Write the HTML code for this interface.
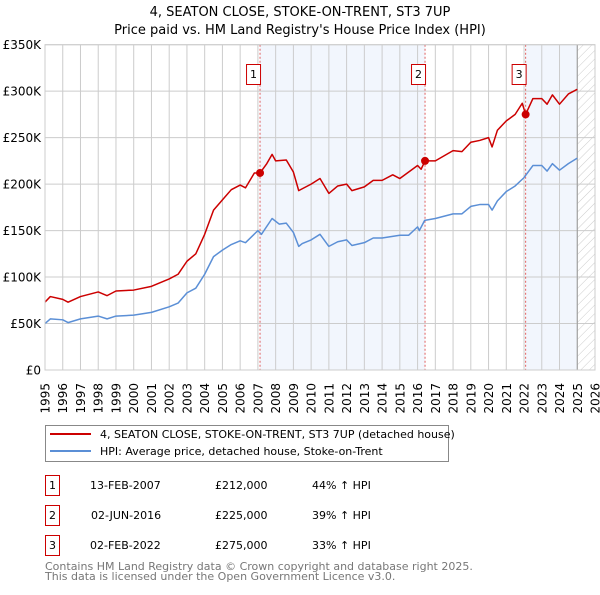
<!DOCTYPE html>
<html><head><meta charset="utf-8"><style>
body{margin:0;background:#fff;font-family:"Liberation Sans","DejaVu Sans",sans-serif}
svg text{font-family:"DejaVu Sans","Liberation Sans",sans-serif}
</style></head><body>
<svg id="c" width="600" height="590" xmlns="http://www.w3.org/2000/svg">
<defs><pattern id="hatch" width="6" height="6" patternUnits="userSpaceOnUse" patternTransform="rotate(45)"><line x1="0" y1="0" x2="0" y2="6" stroke="#ccc" stroke-width="1"/></pattern></defs>
<text x="300" y="16" font-size="13" text-anchor="middle">4, SEATON CLOSE, STOKE-ON-TRENT, ST3 7UP</text>
<text x="300" y="34" font-size="13" text-anchor="middle">Price paid vs. HM Land Registry's House Price Index (HPI)</text>
<g id="plot"></g>
<g>
<rect x="45.5" y="425.5" width="403" height="36" fill="#fff" stroke="#888"/>
<line x1="50" y1="434" x2="91" y2="434" stroke="#cc0000" stroke-width="2"/>
<text x="100" y="438" font-size="11">4, SEATON CLOSE, STOKE-ON-TRENT, ST3 7UP (detached house)</text>
<line x1="50" y1="451" x2="91" y2="451" stroke="#5b8fd6" stroke-width="2"/>
<text x="100" y="455" font-size="11">HPI: Average price, detached house, Stoke-on-Trent</text>
</g>
<g font-size="11">
<rect x="45.5" y="475.5" width="14" height="20" fill="#fff" stroke="#cc0000"/><text x="52.5" y="489" text-anchor="middle">1</text>
<text x="90" y="489">13-FEB-2007</text><text x="215" y="489">£212,000</text><text x="312" y="489">44% ↑ HPI</text>
<rect x="45.5" y="505.5" width="14" height="20" fill="#fff" stroke="#cc0000"/><text x="52.5" y="519" text-anchor="middle">2</text>
<text x="91" y="519">02-JUN-2016</text><text x="215" y="519">£225,000</text><text x="312" y="519">39% ↑ HPI</text>
<rect x="45.5" y="535.5" width="14" height="20" fill="#fff" stroke="#cc0000"/><text x="52.5" y="549" text-anchor="middle">3</text>
<text x="90" y="549">02-FEB-2022</text><text x="215" y="549">£275,000</text><text x="312" y="549">33% ↑ HPI</text>
</g>
<text x="45" y="570" font-size="11" fill="#777">Contains HM Land Registry data © Crown copyright and database right 2025.</text>
<text x="45" y="580" font-size="11" fill="#777">This data is licensed under the Open Government Licence v3.0.</text>
</svg>
<script>
const hpiYears=[1995,1995.3,1996,1996.3,1997,1998,1998.5,1999,2000,2001,2002,2002.5,2003,2003.5,2004,2004.5,2005,2005.5,2006,2006.3,2007,2007.2,2007.8,2008.2,2008.6,2009,2009.3,2009.5,2010,2010.5,2011,2011.5,2012,2012.3,2013,2013.5,2014,2015,2015.5,2016,2016.1,2016.4,2017,2018,2018.5,2019,2019.5,2020,2020.2,2020.5,2021,2021.5,2022,2022.5,2023,2023.3,2023.6,2024,2024.5,2025];
const hpiValues=[50,55,54,51,55,58,55,58,59,62,68,72,83,88,103,122,129,135,139,137,150,146,163,157,158,148,133,136,140,146,133,138,140,134,137,142,142,145,145,154,150,161,163,168,168,176,178,178,172,182,192,198,207,220,220,214,222,215,222,228];
const propYears=[1995,1995.3,1996,1996.3,1997,1998,1998.5,1999,2000,2001,2002,2002.5,2003,2003.5,2004,2004.5,2005,2005.5,2006,2006.3,2006.8,2007.12,2007.5,2007.8,2008,2008.6,2009,2009.3,2009.5,2010,2010.5,2011,2011.5,2012,2012.3,2013,2013.5,2014,2014.6,2015,2015.5,2016,2016.2,2016.42,2017,2018,2018.5,2019,2019.5,2020,2020.2,2020.5,2021,2021.5,2021.9,2022.09,2022.5,2023,2023.3,2023.6,2024,2024.5,2025];
const propValues=[73,79,76,73,79,84,80,85,86,90,98,103,117,125,146,172,183,194,199,196,212,212,222,232,225,226,213,193,195,200,206,190,198,200,193,197,204,204,210,206,213,220,216,225,225,236,235,245,247,250,240,258,268,275,287,275,292,292,286,296,286,297,302];
const saleYears=[2007.12,2016.42,2022.09];
const saleValues=[212,225,275];
const saleLabels=["1","2","3"];
const yTicks=[0,50,100,150,200,250,300,350];
const yTickLabels=["£0","£50K","£100K","£150K","£200K","£250K","£300K","£350K"];
const xTicks=[1995,1996,1997,1998,1999,2000,2001,2002,2003,2004,2005,2006,2007,2008,2009,2010,2011,2012,2013,2014,2015,2016,2017,2018,2019,2020,2021,2022,2023,2024,2025,2026];

const L=45,R=595,T=44.7,B=370,X0=1995,X1=2026,YMAX=350;
const xs=v=>L+(v-X0)/(X1-X0)*(R-L);
const ys=v=>B-v/YMAX*(B-T);
const NS="http://www.w3.org/2000/svg";
const g=document.getElementById('plot');
function mk(t,a){const e=document.createElementNS(NS,t);for(const k in a)e.setAttribute(k,a[k]);g.appendChild(e);return e;}
// shading
for(const [a,b] of [[saleYears[0],saleYears[1]],[saleYears[2],2025]]){
 const r=mk('rect',{x:xs(a),y:T,width:xs(b)-xs(a),height:B-T,fill:'#eef3fc',opacity:0.75});
 
 
}
const h=mk('rect',{x:xs(2025),y:T,width:R-xs(2025),height:B-T,fill:'url(#hatch)'});


// grid
xTicks.forEach(t=>{
 const l=mk('line',{x1:xs(t),x2:xs(t),y1:T,y2:B,stroke:'#ccc','stroke-width':1});
 
 
 const tx=mk('text',{x:0,y:0,'font-size':12,'text-anchor':'end',transform:`translate(${xs(t)+4.5},${B+13}) rotate(-90)`});
 tx.textContent=t;
 
 
});
yTicks.forEach((t,i)=>{
 const l=mk('line',{x1:L,x2:R,y1:ys(t),y2:ys(t),stroke:'#ccc','stroke-width':1});
 
 
 const tx=mk('text',{x:L-4,y:ys(t)+4.5,'font-size':12,'text-anchor':'end'});
 tx.textContent=yTickLabels[i];
 
 
});
const v25=mk('line',{x1:xs(2025),x2:xs(2025),y1:T,y2:B,stroke:'#999','stroke-width':1});


// sale markers lines
saleYears.forEach((s,i)=>{
 const l=mk('line',{x1:xs(s),x2:xs(s),y1:T,y2:B,stroke:'#e06060','stroke-width':1,'stroke-dasharray':'2,2'});
 
 
 const r=mk('rect',{x:xs(s)-13.5,y:64.5,width:14,height:20,fill:'#fff',stroke:'#cc0000'});
 
 
 const t=mk('text',{x:xs(s)-6.5,y:78,'font-size':11,'text-anchor':'middle'});
 t.textContent=saleLabels[i];
 
 
});
function line(xa,va,color,name){
 const p=mk('polyline',{points:xa.map((x,i)=>xs(x)+','+ys(va[i])).join(' '),fill:'none',stroke:color,'stroke-width':1.5,'stroke-linejoin':'round'});
 
 
}
line(hpiYears,hpiValues,'#5b8fd6','hpi-line');
line(propYears,propValues,'#cc0000','property-line');
saleYears.forEach((s,i)=>{
 const c=mk('circle',{cx:xs(s),cy:ys(saleValues[i]),r:4,fill:'#cc0000'});
 
 
});
const f=mk('rect',{x:L,y:T,width:R-L,height:B-T,fill:'none',stroke:'#ccc'});


</script>
</body></html>
